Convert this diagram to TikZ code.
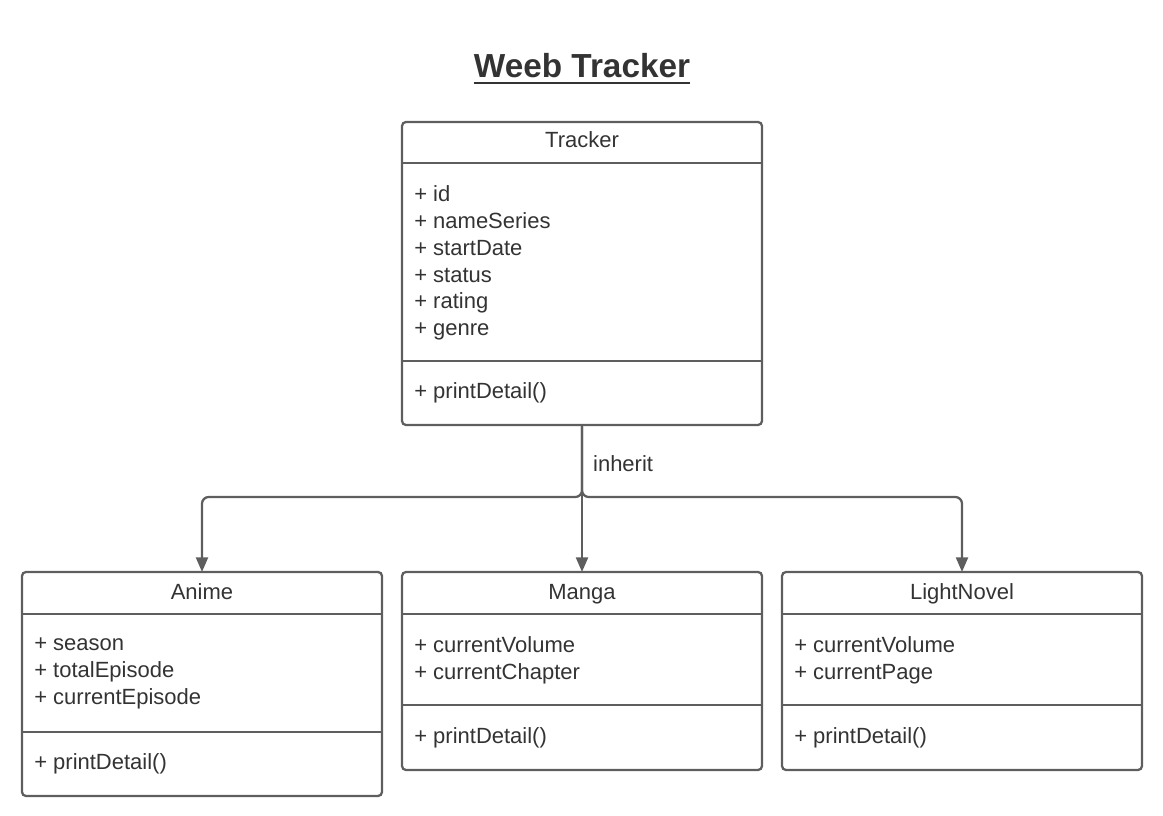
\documentclass[tikz,border=0pt]{standalone}
\usepackage{fontspec}
\setmainfont{Liberation Sans}
\usetikzlibrary{arrows.meta,positioning}
\definecolor{linegray}{RGB}{94,94,94}
\definecolor{textgray}{RGB}{51,51,51}

\begin{document}
\begin{tikzpicture}[x=0.75pt,y=-0.75pt,>={Triangle[width=9pt,length=11pt]},
	classbox/.style={draw=linegray, line width=1.7pt, rounded corners=3pt, minimum width=270pt, inner sep=0pt, outer sep=0pt},
	sep/.style={draw=linegray, line width=1.7pt},
	cname/.style={text=textgray, font=\fontsize{16.5}{20.1}\selectfont, inner sep=0pt},
	member/.style={cname, align=left, anchor=west},
	conn/.style={draw=linegray, line width=1.7pt, rounded corners=5pt, ->}]
	\useasboundingbox (0,0) rectangle (1163,816);

	\node[cname, font=\fontsize{25}{30}\selectfont\bfseries] (title) at (582,66) {Weeb Tracker};
	\draw[textgray, line width=2pt] ([yshift=-3.75pt]title.base west) -- ([yshift=-3.75pt]title.base east);

	\node[classbox, minimum height=227.25pt, anchor=north] (tracker) at (582,122) {};
	\node[classbox, minimum height=148.5pt, below=110.25pt of tracker]                  (manga) {};
	\node[classbox, minimum height=168pt, left=15pt of manga.north west, anchor=north east] (anime) {};
	\node[classbox, minimum height=148.5pt, right=15pt of manga]                       (novel) {};

	\draw[sep] ([yshift=-30.75pt]tracker.north west) -- ([yshift=-30.75pt]tracker.north east);
	\draw[sep] ([yshift=-179.25pt]tracker.north west) -- ([yshift=-179.25pt]tracker.north east);
	\draw[sep] ([yshift=-31.5pt]anime.north west) -- ([yshift=-31.5pt]anime.north east);
	\draw[sep] ([yshift=-120pt]anime.north west) -- ([yshift=-120pt]anime.north east);
	\draw[sep] ([yshift=-31.5pt]manga.north west) -- ([yshift=-31.5pt]manga.north east);
	\draw[sep] ([yshift=-99.75pt]manga.north west) -- ([yshift=-99.75pt]manga.north east);
	\draw[sep] ([yshift=-31.5pt]novel.north west) -- ([yshift=-31.5pt]novel.north east);
	\draw[sep] ([yshift=-99.75pt]novel.north west) -- ([yshift=-99.75pt]novel.north east);

	\node[cname, anchor=base] (trackername) at (582,148) {Tracker};
	\node[member] (trackerattr) at (414,263) {+ id\\+ nameSeries\\+ startDate\\+ status\\+ rating\\+ genre};
	\node[member] (trackerop)   at (414,393) {+ printDetail()};

	\node[cname, anchor=base] (animename) at (202,599) {Anime};
	\node[member] (animeattr) at (34,673.5)  {+ season\\+ totalEpisode\\+ currentEpisode};
	\node[member] (animeop)   at (34,764)    {+ printDetail()};

	\node[cname, anchor=base] (manganame) at (582,599) {Manga};
	\node[member] (mangaattr) at (414,660) {+ currentVolume\\+ currentChapter};
	\node[member] (mangaop)   at (414,738) {+ printDetail()};

	\node[cname, anchor=base] (novelname) at (962,599) {LightNovel};
	\node[member] (novelattr) at (794,660) {+ currentVolume\\+ currentPage};
	\node[member] (novelop)   at (794,738) {+ printDetail()};

	\coordinate (split) at (582,497);
	\draw[conn] (tracker.south) -- node[cname, right=7.5pt, yshift=-2.25pt] (inherit) {inherit} (split) -| (anime.north);
	\draw[conn] (tracker.south) -- (split) -| (novel.north);
	\draw[conn] (tracker.south) -- (manga.north);
\end{tikzpicture}
\end{document}
